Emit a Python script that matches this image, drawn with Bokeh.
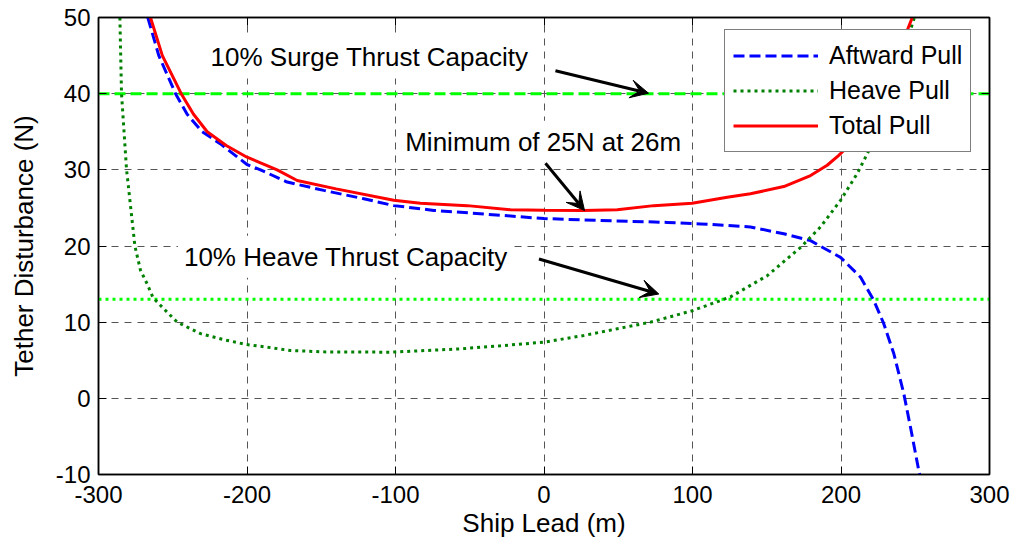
from bokeh.plotting import figure
from bokeh.models import (Range1d, FixedTicker, Legend, LegendItem, Label, Arrow,
                          VeeHead, LinearAxis, CustomJSTickFormatter)
from bokeh.embed import file_html
from bokeh.resources import INLINE

# ---- data ----
aft_x = [-266.8, -259.4, -248.1, -240.3, -230.2, -217.8, -200, -190.9, -173, -148.3,
         -121.3, -101.2, -83.2, -74.2, -40.5, 0, 38, 83, 105.4, 123.4, 139, 161.5,
         179.5, 199.7, 213.2, 222.1, 228.8, 235.6, 242.3, 246.8, 252.4, 253]
aft_y = [50, 45, 40, 37.3, 35, 33.4, 30.7, 30, 28.4, 27.3,
         26.2, 25.3, 24.9, 24.67, 24.2, 23.6, 23.35, 23.1, 22.9, 22.7, 22.5, 21.6,
         20.7, 18.5, 15.9, 12.85, 9.8, 5.85, 0.6, -3.8, -9.5, -10]

heave_x = [-285.6, -284.5, -281.1, -280.3, -275.5, -271.7, -267.2, -263.2, -253.7, -247,
           -231.3, -215.6, -200.5, -186.4, -170.7, -148.3, -103.4, -87.7, -56.2, -29.3,
           0, 26.8, 49.3, 71.7, 99.8, 125.4, 150.3, 172.7, 186.2, 199.7, 210.9, 218.7,
           225, 232, 240, 247, 251]
heave_y = [50, 40, 30, 28.6, 20, 16.8, 15, 13.2, 11.3, 10,
           8.5, 7.7, 7.07, 6.72, 6.28, 6.1, 6.06, 6.2, 6.5, 6.9,
           7.37, 8.25, 9.13, 10, 11.5, 13.3, 16.1, 19.8, 22.5, 26, 29.5, 32.5,
           36, 40, 44, 48.5, 51]

total_x = [-265, -257, -244.3, -236, -226.8, -214, -200, -179.7, -166.2, -140, -101.2, -83.2,
           -51.7, -22.6, 0, 26.8, 49.3, 74, 99.8, 123.4, 139, 161.5, 179.5, 190.7,
           198.5, 204.2, 213.2, 222, 229, 236, 243, 250]
total_y = [50, 45, 40, 37.3, 35, 33.2, 31.66, 30, 28.6, 27.5, 26.0, 25.6,
           25.3, 24.75, 24.7, 24.65, 24.75, 25.3, 25.6, 26.4, 26.85, 27.8, 29.25, 30.6,
           31.9, 33, 34.4, 37.3, 41, 44.4, 47.5, 51]

surge_capacity = 40
heave_capacity = 13

series_labels = ["Aftward Pull", "Heave Pull", "Total Pull"]
x_ticks = [-300, -200, -100, 0, 100, 200, 300]
y_ticks = [-10, 0, 10, 20, 30, 40, 50]

note_texts = ["10% Surge Thrust Capacity", "Minimum of 25N at 26m", "10% Heave Thrust Capacity"]
note_x = [-228.6, -97.5, -246.5]
note_y = [44.75, 33.7, 18.6]
arrow_x0 = [7.7, 1.0, -3.4]
arrow_y0 = [43.0, 30.87, 18.3]
arrow_x1 = [70.4, 27.3, 77.3]
arrow_y1 = [40.06, 24.66, 13.7]

FONT = "Liberation Sans"

p = figure(width=1016, height=544, x_range=Range1d(-300, 300), y_range=Range1d(-10, 50),
           output_backend="svg", toolbar_location=None,
           min_border_left=98, min_border_right=27, min_border_top=17, min_border_bottom=70,
           x_axis_label="Ship Lead (m)", y_axis_label="Tether Disturbance (N)")
p.background_fill_color = "white"
p.border_fill_color = "white"
p.outline_line_color = "black"
p.outline_line_width = 1.5

plain = CustomJSTickFormatter(code="return tick.toString()")
for ax in (p.xaxis[0], p.yaxis[0]):
    ax.formatter = plain
    ax.major_label_text_font = FONT
    ax.major_label_text_font_size = "24px"
    ax.major_label_text_color = "black"
    ax.axis_label_text_font = FONT
    ax.axis_label_text_font_size = "26px"
    ax.axis_label_text_font_style = "normal"
    ax.axis_label_text_color = "black"
    ax.major_tick_in = 8
    ax.major_tick_out = 0
    ax.minor_tick_line_color = None
    ax.axis_line_width = 1.5
    ax.major_tick_line_width = 1
p.xaxis[0].ticker = FixedTicker(ticks=x_ticks)
p.yaxis[0].ticker = FixedTicker(ticks=y_ticks)
p.xaxis[0].major_label_standoff = 11
p.xaxis[0].axis_label_standoff = 2
p.yaxis[0].major_label_standoff = 8
p.yaxis[0].axis_label_standoff = 14

blank = CustomJSTickFormatter(code="return ''")
top_ax = LinearAxis(ticker=FixedTicker(ticks=x_ticks), formatter=blank, major_tick_in=8,
                    major_tick_out=0, minor_tick_line_color=None, major_label_standoff=0,
                    axis_line_width=1.5)
right_ax = LinearAxis(ticker=FixedTicker(ticks=y_ticks), formatter=blank, major_tick_in=8,
                      major_tick_out=0, minor_tick_line_color=None, major_label_standoff=0,
                      axis_line_width=1.5)
p.add_layout(top_ax, "above")
p.add_layout(right_ax, "right")

p.xgrid.ticker = FixedTicker(ticks=x_ticks)
p.ygrid.ticker = FixedTicker(ticks=y_ticks)
p.grid.grid_line_color = "#555555"
p.grid.grid_line_dash = "7 6"
p.grid.grid_line_width = 1

# capacity lines
p.line([-300, 300], [surge_capacity, surge_capacity], line_color="#00FF00", line_width=3,
       line_dash="11 5")
p.line([-300, 300], [heave_capacity, heave_capacity], line_color="#00FF00", line_width=3,
       line_dash="3 4")

r_aft = p.line(aft_x, aft_y, line_color="#0000FF", line_width=3, line_dash="11 5")
r_heave = p.line(heave_x, heave_y, line_color="#008000", line_width=3, line_dash="3 4")
r_total = p.line(total_x, total_y, line_color="#FF0000", line_width=3)

for t, x, y in zip(note_texts, note_x, note_y):
    p.add_layout(Label(x=x, y=y, text=t, text_font=FONT, text_font_size="26px",
                       text_color="black", text_baseline="middle", text_align="left",
                       background_fill_color="white", padding=6))

for x0, y0, x1, y1 in zip(arrow_x0, arrow_y0, arrow_x1, arrow_y1):
    p.add_layout(Arrow(end=VeeHead(size=18, fill_color="black", line_color="black", line_width=1),
                       x_start=x0, y_start=y0, x_end=x1, y_end=y1,
                       line_color="black", line_width=3))

legend = Legend(items=[LegendItem(label=series_labels[0], renderers=[r_aft]),
                       LegendItem(label=series_labels[1], renderers=[r_heave]),
                       LegendItem(label=series_labels[2], renderers=[r_total])],
                location=(626, 322))
legend.label_text_font = FONT
legend.label_text_font_size = "25px"
legend.label_text_color = "black"
legend.border_line_color = "black"
legend.border_line_width = 1.5
legend.background_fill_color = "white"
legend.background_fill_alpha = 1
legend.padding = 8
legend.spacing = 0
legend.margin = 0
legend.label_height = 35
legend.glyph_height = 35
legend.glyph_width = 85
legend.label_standoff = 11
p.add_layout(legend, "center")

open("out.html", "w").write(file_html(p, INLINE))
